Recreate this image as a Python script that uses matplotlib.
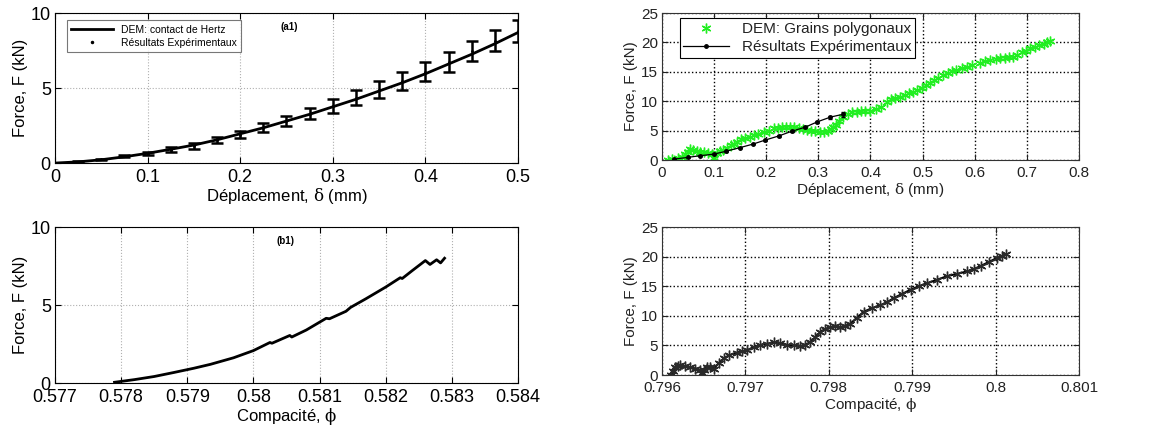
import numpy as np
import matplotlib
matplotlib.use('Agg')
import matplotlib.pyplot as plt
from matplotlib import rcParams
from matplotlib.lines import Line2D

rcParams['font.family'] = 'sans-serif'
rcParams['font.sans-serif'] = ['Liberation Sans']
rcParams['mathtext.fontset'] = 'dejavuserif'

# ---- (a1) Hertz contact, force vs displacement ----
d_hertz = [0, 0.025, 0.05, 0.075, 0.1, 0.125, 0.15, 0.175, 0.2, 0.225, 0.25,
           0.275, 0.3, 0.325, 0.35, 0.375, 0.4, 0.425, 0.45, 0.475, 0.5]
F_hertz = [0, 0.08, 0.22, 0.42, 0.65, 0.92, 1.2, 1.55, 1.95, 2.35, 2.8,
           3.25, 3.75, 4.25, 4.8, 5.35, 5.95, 6.6, 7.25, 7.95, 8.7]
d_exp1 = [0.025, 0.05, 0.075, 0.1, 0.125, 0.15, 0.175, 0.2, 0.225, 0.25,
          0.275, 0.3, 0.325, 0.35, 0.375, 0.4, 0.425, 0.45, 0.475, 0.5]
F_exp1 = [0.08, 0.25, 0.45, 0.65, 0.9, 1.15, 1.55, 1.9, 2.35, 2.8,
          3.3, 3.8, 4.35, 4.9, 5.5, 6.1, 6.75, 7.45, 8.15, 8.8]
err_exp1 = [0.03, 0.05, 0.07, 0.1, 0.15, 0.18, 0.22, 0.25, 0.3, 0.33,
            0.38, 0.45, 0.5, 0.55, 0.6, 0.63, 0.65, 0.67, 0.7, 0.72]

# ---- (b1) Hertz contact, force vs compacity ----
phi_b1 = [0.5779, 0.5782, 0.5785, 0.5788, 0.5791, 0.57935, 0.5797, 0.5800,
          0.58025, 0.58028, 0.58055, 0.58058, 0.5808, 0.5811, 0.58115, 0.5814,
          0.58147, 0.5817, 0.582, 0.58222, 0.58225, 0.5824, 0.5826, 0.58267,
          0.58277, 0.58283, 0.58289]
F_b1 = [0.05, 0.22, 0.42, 0.68, 0.95, 1.2, 1.62, 2.08,
        2.6, 2.55, 3.05, 2.95, 3.4, 4.15, 4.12, 4.6,
        4.85, 5.4, 6.15, 6.75, 6.7, 7.2, 7.85, 7.6,
        7.9, 7.7, 8.0]

# ---- polygonal grains, force vs displacement ----
d_poly = [0.011, 0.02, 0.03, 0.038, 0.045, 0.05, 0.054, 0.06, 0.067, 0.073,
          0.08, 0.088, 0.096, 0.1, 0.105, 0.112, 0.118, 0.125, 0.132, 0.138,
          0.144, 0.152, 0.16, 0.168, 0.176, 0.185, 0.195, 0.205, 0.214, 0.222,
          0.23, 0.238, 0.246, 0.254, 0.262, 0.27, 0.278, 0.286, 0.294, 0.303,
          0.31, 0.318, 0.324, 0.329, 0.334, 0.34, 0.348, 0.356, 0.365, 0.374,
          0.382, 0.39, 0.4, 0.41, 0.42, 0.431, 0.44, 0.448, 0.457, 0.466,
          0.474, 0.482, 0.49, 0.498, 0.506, 0.514, 0.522, 0.53, 0.54, 0.548,
          0.556, 0.565, 0.575, 0.585, 0.595, 0.61, 0.62, 0.63, 0.64, 0.649,
          0.658, 0.666, 0.674, 0.682, 0.69, 0.698, 0.706, 0.715, 0.724, 0.732,
          0.738, 0.744]
F_poly = [0.0, 0.1, 0.3, 0.5, 1.0, 1.4, 1.8, 1.7, 1.5, 1.4,
          1.3, 1.2, 1.1, 0.4, 1.2, 1.5, 1.7, 2.0, 2.5, 2.8,
          3.1, 3.5, 3.8, 4.0, 4.3, 4.5, 4.8, 5.0, 5.4, 5.5,
          5.6, 5.7, 5.7, 5.6, 5.4, 5.3, 5.1, 5.0, 4.9, 4.7,
          4.8, 5.0, 5.3, 5.6, 6.0, 6.6, 7.4, 7.9, 8.1, 8.2,
          8.3, 8.3, 8.35, 8.6, 9.1, 9.9, 10.3, 10.6, 10.8, 11.1,
          11.4, 11.6, 11.9, 12.3, 12.7, 13.1, 13.6, 14.0, 14.5, 14.8,
          15.1, 15.3, 15.6, 15.9, 16.1, 16.5, 16.8, 17.0, 17.2, 17.3,
          17.4, 17.5, 17.6, 17.9, 18.3, 18.6, 19.0, 19.3, 19.6, 19.8,
          20.0, 20.2]
d_exp2 = [0.024, 0.049, 0.073, 0.099, 0.123, 0.149, 0.174, 0.198, 0.224,
          0.249, 0.275, 0.298, 0.323, 0.348]
F_exp2 = [0.17, 0.45, 0.74, 1.0, 1.5, 2.1, 2.7, 3.4, 4.1,
          4.9, 5.6, 6.5, 7.3, 7.8]
err_exp2 = [0.05, 0.05, 0.05, 0.05, 0.05, 0.05, 0.05, 0.08, 0.1,
            0.1, 0.15, 0.2, 0.25, 0.4]

# ---- polygonal grains, force vs compacity ----
phi_poly = [0.79611, 0.79613, 0.79616, 0.79619, 0.79622, 0.79627, 0.79634,
            0.7964, 0.79646, 0.79648, 0.7965, 0.79654, 0.79658, 0.79662,
            0.79668, 0.79674, 0.7968, 0.7969, 0.79696, 0.79702, 0.7971,
            0.79718, 0.79726, 0.79734, 0.79742, 0.7975, 0.79758, 0.79766,
            0.79772, 0.79778, 0.79784, 0.7979, 0.79796, 0.79802, 0.79808,
            0.79814, 0.7982, 0.79826, 0.79834, 0.79842, 0.79852, 0.79862,
            0.7987, 0.79878, 0.79888, 0.79898, 0.79908, 0.79918, 0.7993,
            0.79942, 0.79954, 0.79966, 0.79974, 0.79982, 0.79992, 0.80002,
            0.80008, 0.80012]
F_poly_phi = [0.0, 0.6, 1.4, 1.6, 1.7, 1.5, 1.3,
              1.1, 0.85, 0.3, 0.9, 1.4, 1.3, 1.1,
              2.0, 2.8, 3.3, 3.8, 4.0, 4.2, 4.7,
              5.1, 5.3, 5.5, 5.4, 5.1, 5.0, 4.9,
              5.1, 5.6, 6.4, 7.3, 7.8, 8.1, 8.2,
              8.1, 8.3, 8.7, 9.7, 10.7, 11.3, 11.8,
              12.3, 13.0, 13.7, 14.4, 15.0, 15.5, 16.1,
              16.7, 17.1, 17.5, 17.9, 18.4, 19.1, 19.8,
              20.1, 20.4]

ASTER = (6, 2, 0)  # Matlab-like asterisk

fig = plt.figure(figsize=(11.7, 4.28), dpi=100)

def style_left(ax):
    ax.grid(True, linestyle=':', color='#b0b0b0', linewidth=0.8)
    ax.tick_params(direction='in', top=True, right=True, labelsize=13, length=4)
    ax.tick_params(axis='x', pad=4)
    ax.tick_params(axis='y', pad=3)
    for s in ax.spines.values():
        s.set_linewidth(0.8)

def style_right(ax):
    ax.grid(True, linestyle=':', color='black', linewidth=1.0)
    ax.tick_params(direction='in', top=True, right=True, labelsize=11,
                   length=4, colors='#222222')
    ax.tick_params(axis='x', pad=4)
    ax.tick_params(axis='y', pad=3)
    for s in ax.spines.values():
        s.set_linewidth(0.8)
        s.set_color('#333333')

# (a1)
ax1 = fig.add_axes([0.047, 0.619, 0.3957, 0.3506])
ax1.plot(d_hertz, F_hertz, color='black', linewidth=2)
ax1.errorbar(d_exp1, F_exp1, yerr=err_exp1, fmt='.', color='black', markersize=2,
             ecolor='black', elinewidth=1.8, capsize=4, capthick=1.8)
ax1.set_xlim(0, 0.5)
ax1.set_ylim(0, 10)
ax1.set_xticks([0, 0.1, 0.2, 0.3, 0.4, 0.5])
ax1.set_xticklabels(['0', '0.1', '0.2', '0.3', '0.4', '0.5'])
ax1.set_yticks([0, 5, 10])
style_left(ax1)
ax1.set_xlabel(r'Déplacement, $\mathrm{\delta}$ (mm)', fontsize=12, labelpad=0)
ax1.set_ylabel('Force, F (kN)', fontsize=12, labelpad=2)
ax1.text(0.253, 9.1, '(a1)', fontsize=7, fontweight='bold', ha='center', va='center')
h1 = [Line2D([], [], color='black', linewidth=2),
      Line2D([], [], linestyle='none', marker='.', color='black', markersize=3)]
leg1 = ax1.legend(h1, ['DEM: contact de Hertz', 'Résultats Expérimentaux'],
                  loc='upper left', fontsize=7.5, frameon=True, fancybox=False,
                  edgecolor='#555555', handlelength=4, borderpad=0.4,
                  labelspacing=0.3, bbox_to_anchor=(0.015, 0.985))
leg1.get_frame().set_linewidth(0.8)

# polygonal, displacement
ax2 = fig.add_axes([0.5658, 0.626, 0.3564, 0.3436])
ax2.plot(d_poly, F_poly, linestyle='none', marker=ASTER, color='#22ee22',
         markersize=7, markeredgewidth=1.0)
ax2.errorbar(d_exp2, F_exp2, yerr=err_exp2, fmt='.-', color='black', markersize=5,
             linewidth=0.9, elinewidth=0.8, capsize=1.5)
ax2.set_xlim(0, 0.8)
ax2.set_ylim(0, 25)
ax2.set_xticks(np.arange(0, 0.81, 0.1))
ax2.set_xticklabels(['0', '0.1', '0.2', '0.3', '0.4', '0.5', '0.6', '0.7', '0.8'])
ax2.set_yticks([0, 5, 10, 15, 20, 25])
style_right(ax2)
ax2.set_xlabel(r'Déplacement, $\mathrm{\delta}$ (mm)', fontsize=11, color='#222222', labelpad=1)
ax2.set_ylabel('Force, F (kN)', fontsize=11, color='#222222', labelpad=2)
h2 = [Line2D([], [], linestyle='none', marker=ASTER, color='#22ee22',
             markersize=7, markeredgewidth=1.0),
      Line2D([], [], marker='.', color='black', markersize=5, linewidth=0.9)]
leg2 = ax2.legend(h2, ['DEM: Grains polygonaux', 'Résultats Expérimentaux'],
                  loc='upper left', fontsize=11, frameon=True, fancybox=False,
                  edgecolor='black', framealpha=1, handlelength=3,
                  borderpad=0.25, labelspacing=0.25, borderaxespad=0.2,
                  bbox_to_anchor=(0.035, 0.985))
leg2.get_frame().set_linewidth(0.8)
for t in leg2.get_texts():
    t.set_color('#222222')

# (b1)
ax3 = fig.add_axes([0.047, 0.105, 0.3957, 0.3646])
ax3.plot(phi_b1, F_b1, color='black', linewidth=2)
ax3.set_xlim(0.577, 0.584)
ax3.set_ylim(0, 10)
ax3.set_xticks([0.577, 0.578, 0.579, 0.58, 0.581, 0.582, 0.583, 0.584])
ax3.set_xticklabels(['0.577', '0.578', '0.579', '0.58', '0.581', '0.582', '0.583', '0.584'])
ax3.set_yticks([0, 5, 10])
style_left(ax3)
ax3.set_xlabel(r'Compacité, $\mathrm{\phi}$', fontsize=12, labelpad=0)
ax3.set_ylabel('Force, F (kN)', fontsize=12, labelpad=2)
ax3.text(0.58048, 9.1, '(b1)', fontsize=7, fontweight='bold', ha='center', va='center')

# polygonal, compacity
ax4 = fig.add_axes([0.5658, 0.1238, 0.3564, 0.3458])
ax4.plot(phi_poly, F_poly_phi, color='black', linewidth=1.5, marker=ASTER,
         markersize=7, markeredgecolor='#2a2a2a', markeredgewidth=1.0)
ax4.set_xlim(0.796, 0.801)
ax4.set_ylim(0, 25)
ax4.set_xticks([0.796, 0.797, 0.798, 0.799, 0.8, 0.801])
ax4.set_xticklabels(['0.796', '0.797', '0.798', '0.799', '0.8', '0.801'])
ax4.set_yticks([0, 5, 10, 15, 20, 25])
style_right(ax4)
ax4.set_xlabel(r'Compacité, $\mathrm{\phi}$', fontsize=11, color='#222222', labelpad=1)
ax4.set_ylabel('Force, F (kN)', fontsize=11, color='#222222', labelpad=2)

plt.savefig('out.png', dpi=100)
